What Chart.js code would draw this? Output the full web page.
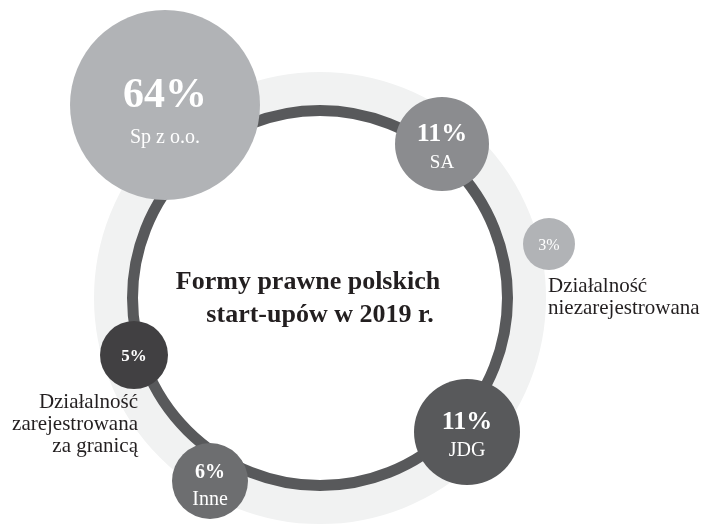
<!DOCTYPE html>
<html>
<head>
<meta charset="utf-8">
<script src="https://cdn.jsdelivr.net/npm/chart.js@4.4.1/dist/chart.umd.min.js"></script>
<style>
  body { margin: 0; background: #ffffff; }
  canvas { display: block; }
</style>
</head>
<body>
<canvas id="startupForms" width="706" height="525"></canvas>
<script>
// categories and shares
var categories = ['Sp z o.o.', 'SA', 'Działalność niezarejestrowana', 'JDG', 'Inne', 'Działalność zarejestrowana za granicą'];
var shares = [64, 11, 3, 11, 6, 5];

// bubble placement in chart units (axes run 0..706 and 0..525)
var bubbleX = [165, 442, 549, 467, 210, 134];
var bubbleY = [105, 144, 244, 432, 481, 355];
var bubbleR = [95, 47, 26, 53, 38, 34];

var bubbleColors = ['#b1b3b6', '#8b8c8f', '#b1b3b6', '#58595b', '#6d6e70', '#414042'];

var serif = '"Liberation Serif", "DejaVu Serif", serif';

var ringPlugin = {
    id: 'ring',
    beforeDatasetsDraw: function (chart) {
        'use strict';
        var ctx = chart.ctx;
        var xs = chart.scales.x;
        var ys = chart.scales.y;
        var cx = xs.getPixelForValue(320);
        var cy = ys.getPixelForValue(298);
        var unit = xs.getPixelForValue(1) - xs.getPixelForValue(0);

        ctx.save();
        // light outer band
        ctx.beginPath();
        ctx.arc(cx, cy, 205 * unit, 0, Math.PI * 2);
        ctx.lineWidth = 42 * unit;
        ctx.strokeStyle = '#f1f2f2';
        ctx.stroke();
        // dark thin ring
        ctx.beginPath();
        ctx.arc(cx, cy, 187.5 * unit, 0, Math.PI * 2);
        ctx.lineWidth = 11 * unit;
        ctx.strokeStyle = '#58595b';
        ctx.stroke();
        ctx.restore();
    }
};

var labelPlugin = {
    id: 'labels',
    afterDatasetsDraw: function (chart) {
        'use strict';
        var ctx = chart.ctx;
        var meta = chart.getDatasetMeta(0);
        var pctSize = [42, 26, 16, 26, 20, 17];
        var pctBold = [true, true, false, true, true, true];
        var nameSize = [20, 19, 0, 20, 20, 0];

        ctx.save();
        ctx.textAlign = 'center';
        ctx.textBaseline = 'alphabetic';
        ctx.fillStyle = '#ffffff';

        meta.data.forEach(function (pt, i) {
            var x = pt.x;
            var y = pt.y;
            var pct = shares[i] + '%';
            if (nameSize[i] > 0) {
                ctx.font = 'bold ' + pctSize[i] + 'px ' + serif;
                ctx.fillText(pct, x, y + pctSize[i] * 0.05 - (i === 0 ? 0 : 4));
                ctx.font = nameSize[i] + 'px ' + serif;
                ctx.fillText(categories[i], x, y + (i === 0 ? 38 : 24));
            } else {
                ctx.font = (pctBold[i] ? 'bold ' : '') + pctSize[i] + 'px ' + serif;
                ctx.fillText(pct, x, y + pctSize[i] * 0.35);
            }
        });

        // outside labels
        ctx.fillStyle = '#231f20';
        ctx.font = '21px ' + serif;
        ctx.textAlign = 'left';
        ctx.fillText('Działalność', 548, 292);
        ctx.fillText('niezarejestrowana', 548, 314);

        ctx.textAlign = 'right';
        ctx.fillText('Działalność', 138, 408);
        ctx.fillText('zarejestrowana', 138, 430);
        ctx.fillText('za granicą', 138, 452);

        // centre title
        ctx.textAlign = 'center';
        ctx.font = 'bold 26px ' + serif;
        ctx.fillText('Formy prawne polskich', 308, 289);
        ctx.fillText('start-upów w 2019 r.', 320, 322);
        ctx.restore();
    }
};

var points = bubbleX.map(function (x, i) {
    return { x: x, y: bubbleY[i], r: bubbleR[i] };
});

var ctx = document.getElementById('startupForms');

var myBubbleChart = new Chart(ctx, {
    type: 'bubble',
    data: {
        labels: categories,
        datasets: [
            {
                label: 'Formy prawne',
                data: points,
                backgroundColor: bubbleColors,
                borderWidth: 0,
                hoverBorderWidth: 0
            }
        ]
    },
    options: {
        responsive: false,
        animation: false,
        layout: { padding: 0, autoPadding: false },
        events: [],
        scales: {
            x: { type: 'linear', min: 0, max: 706, display: false },
            y: { type: 'linear', min: 0, max: 525, reverse: true, display: false }
        },
        plugins: {
            legend: { display: false },
            tooltip: { enabled: false },
            title: { display: false }
        },
        clip: false
    },
    plugins: [ringPlugin, labelPlugin]
});
</script>
</body>
</html>
